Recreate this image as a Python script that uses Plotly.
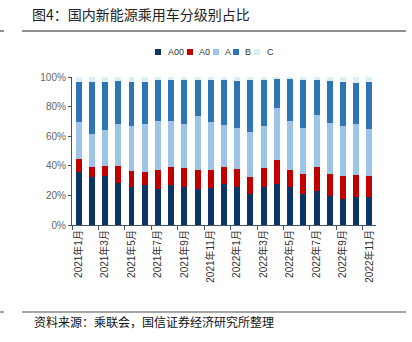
import plotly.graph_objects as go

months = ["2021年1月","2021年2月","2021年3月","2021年4月","2021年5月","2021年6月","2021年7月","2021年8月",
          "2021年9月","2021年10月","2021年11月","2021年12月","2022年1月","2022年2月","2022年3月","2022年4月",
          "2022年5月","2022年6月","2022年7月","2022年8月","2022年9月","2022年10月","2022年11月"]

a00 = [35.7,32.6,33.0,28.3,25.6,27.0,24.5,27.0,25.4,24.3,24.9,27.6,25.6,21.1,25.6,27.9,25.4,21.1,22.9,19.8,17.8,18.9,19.1]
a0  = [8.6,6.7,6.8,11.5,11.0,9.0,12.4,12.3,13.3,12.8,12.6,11.7,12.4,11.3,12.8,15.7,12.1,13.3,16.2,14.8,15.2,14.6,14.2]
a   = [25.4,22.5,24.2,28.3,30.4,32.5,33.2,31.3,29.4,36.6,32.2,28.1,27.8,30.7,28.6,35.5,32.8,31.0,35.1,34.6,33.7,35.0,31.6]
b   = [26.7,34.6,32.9,29.2,29.4,28.4,27.7,27.4,29.9,24.5,28.1,30.4,31.5,35.1,31.2,19.6,28.1,32.4,23.6,27.9,29.7,27.5,31.7]
c   = [3.6,3.6,3.1,2.7,3.6,3.1,2.2,2.0,2.0,1.8,2.2,2.2,2.7,1.8,1.8,1.3,1.6,2.2,2.2,2.9,3.6,4.0,3.4]

y_ticks = [0, 20, 40, 60, 80, 100]
y_labels = ["0%", "20%", "40%", "60%", "80%", "100%"]

series = [("A00", a00, "#0B3565"), ("A0", a0, "#C00000"), ("A", a, "#9DC3E6"),
          ("B", b, "#2E75B6"), ("C", c, "#DAEEF3")]

fig = go.Figure()
for name, vals, col in series:
    fig.add_trace(go.Bar(x=months, y=vals, name=name, showlegend=False,
                         marker=dict(color=col, line=dict(width=0))))

axis_col = "#44546A"
fnt = "Liberation Sans, Arial, Noto Sans CJK SC"

W, H = 412, 342
L, R, T, B = 72, 36, 77, 117
pw, ph = W - L - R, H - T - B

def px(x):
    return (x - L) / pw

def py(y):
    return (H - B - y) / ph

fig.update_layout(
    width=W, height=H,
    margin=dict(l=L, r=R, t=T, b=B),
    barmode="stack", bargap=0.55,
    plot_bgcolor="white", paper_bgcolor="white",
    showlegend=False,
    title=dict(text="图4：国内新能源乘用车分级别占比", x=32 / W, xanchor="left", xref="container",
               y=1 - 15 / H, yanchor="middle", yref="container",
               font=dict(family="Noto Sans CJK SC", size=14, color="#222222")),
    xaxis=dict(range=[-0.5, 22.5], type="category", tickmode="linear", dtick=2, tick0=0,
               tickson="boundaries", ticks="outside", ticklen=4, tickcolor=axis_col,
               showline=True, linecolor=axis_col, linewidth=1.2, tickangle=-90,
               tickfont=dict(family=fnt, size=10, color="#333333"), showgrid=False),
    yaxis=dict(range=[0, 100], tickmode="array", tickvals=y_ticks, ticktext=y_labels,
               ticks="outside", ticklen=3, tickcolor=axis_col, showline=True,
               linecolor=axis_col, linewidth=1.2, showgrid=False, zeroline=False,
               tickfont=dict(family=fnt, size=10, color="#666666")),
    font=dict(family=fnt),
)

# manual compact legend
leg_sq = [155, 187, 213, 233, 254]
leg_tx = [166, 197, 223, 243, 265]
for (name, _, col), sx, tx in zip(series, leg_sq, leg_tx):
    fig.add_shape(type="rect", xref="paper", yref="paper", x0=px(sx), x1=px(sx + 6),
                  y0=py(55), y1=py(49), fillcolor=col, line=dict(width=0))
    fig.add_annotation(text=name, xref="paper", yref="paper", x=px(tx), y=py(52),
                       xanchor="left", yanchor="middle", showarrow=False,
                       font=dict(family=fnt, size=9, color="#333333"))

fig.add_shape(type="line", xref="paper", yref="paper", x0=px(22), x1=px(406), y0=py(31), y1=py(31),
              line=dict(color="#222222", width=1))
fig.add_shape(type="line", xref="paper", yref="paper", x0=px(0), x1=px(4), y0=py(31), y1=py(31),
              line=dict(color="#222222", width=1))
fig.add_shape(type="line", xref="paper", yref="paper", x0=px(22), x1=px(406), y0=py(312), y1=py(312),
              line=dict(color="#888888", width=1.5))
fig.add_shape(type="line", xref="paper", yref="paper", x0=px(0), x1=px(4), y0=py(312), y1=py(312),
              line=dict(color="#888888", width=1.5))
fig.add_annotation(text="资料来源：乘联会，国信证券经济研究所整理", xref="paper", yref="paper",
                   x=px(32), y=py(321), xanchor="left", yanchor="middle", showarrow=False,
                   font=dict(family="Noto Sans CJK SC", size=12, color="#111111"))

fig.write_html("out.html")
